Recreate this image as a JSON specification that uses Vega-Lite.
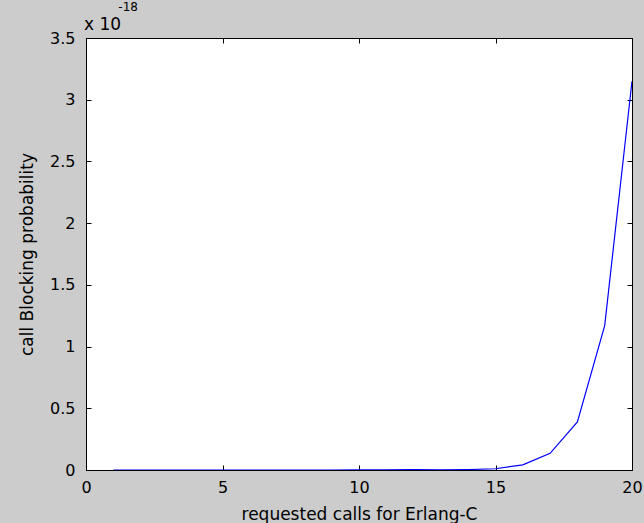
{
  "$schema": "https://vega.github.io/schema/vega-lite/v6.json",
  "width": 546,
  "height": 432,
  "autosize": {"type": "none"},
  "padding": {"left": 86, "top": 38, "right": 12, "bottom": 53},
  "background": "#cccccc",
  "title": {
    "text": "\u200d\u00a0\u00a0\u00a0\u00a0\u00a0\u00a0\u00a0\u00a0\u00a0-18",
    "subtitle": "x 10",
    "anchor": "start",
    "frame": "group",
    "font": "DejaVu Sans",
    "fontSize": 12,
    "fontWeight": "normal",
    "color": "#000000",
    "subtitleFont": "DejaVu Sans",
    "subtitleFontSize": 17,
    "subtitleColor": "#000000",
    "subtitlePadding": 3,
    "offset": -4,
    "dx": -2
  },
  "data": {
    "values": [
      {"calls": 1, "p": 1e-26},
      {"calls": 2, "p": 3e-26},
      {"calls": 3, "p": 1e-25},
      {"calls": 4, "p": 3e-25},
      {"calls": 5, "p": 1e-24},
      {"calls": 6, "p": 3e-24},
      {"calls": 7, "p": 1e-23},
      {"calls": 8, "p": 3e-23},
      {"calls": 9, "p": 1e-22},
      {"calls": 10, "p": 4e-22},
      {"calls": 11, "p": 1.2e-21},
      {"calls": 12, "p": 4e-21},
      {"calls": 13, "p": 1.2e-21},
      {"calls": 14, "p": 3.5e-21},
      {"calls": 15, "p": 1e-20},
      {"calls": 16, "p": 4.2e-20},
      {"calls": 17, "p": 1.35e-19},
      {"calls": 18, "p": 3.9e-19},
      {"calls": 19, "p": 1.17e-18},
      {"calls": 20, "p": 3.15e-18}
    ]
  },
  "layer": [
    {
      "mark": {"type": "line", "color": "#0000ff", "strokeWidth": 1.2, "clip": true},
      "encoding": {
        "x": {
          "field": "calls",
          "type": "quantitative",
          "scale": {"domain": [0, 20], "nice": false, "zero": false},
          "axis": {
            "orient": "bottom",
            "values": [0, 5, 10, 15, 20],
            "title": "requested calls for Erlang-C",
            "labelPadding": 14,
            "titlePadding": 11
          }
        },
        "y": {
          "field": "p",
          "type": "quantitative",
          "scale": {"domain": [0, 3.5e-18], "nice": false},
          "axis": {
            "orient": "left",
            "values": [0, 0.5e-18, 1e-18, 1.5e-18, 2e-18, 2.5e-18, 3e-18, 3.5e-18],
            "labelExpr": "format(datum.value*1e18, '.1~f')",
            "title": "call Blocking probability",
            "labelPadding": 16,
            "titlePadding": 13
          }
        }
      }
    },
    {
      "mark": {"type": "line", "opacity": 0},
      "encoding": {
        "x": {
          "field": "calls",
          "type": "quantitative",
          "axis": {"orient": "top", "values": [0, 5, 10, 15, 20], "labels": false, "title": null}
        },
        "y": {
          "field": "p",
          "type": "quantitative",
          "axis": {"orient": "right", "values": [0, 0.5e-18, 1e-18, 1.5e-18, 2e-18, 2.5e-18, 3e-18, 3.5e-18], "labels": false, "title": null}
        }
      }
    }
  ],
  "resolve": {"axis": {"x": "independent", "y": "independent"}},
  "config": {
    "view": {"fill": "#ffffff", "stroke": "#000000", "strokeWidth": 1},
    "axis": {
      "grid": false,
      "domainColor": "#000000",
      "tickColor": "#000000",
      "tickSize": -5,
      "tickWidth": 1,
      "labelColor": "#000000",
      "labelFont": "DejaVu Sans",
      "labelFontSize": 16,
      "titleFont": "DejaVu Sans",
      "titleFontSize": 17,
      "titleFontWeight": "normal",
      "titleColor": "#000000",
      "labelFlush": false,
      "labelOverlap": false
    }
  }
}
